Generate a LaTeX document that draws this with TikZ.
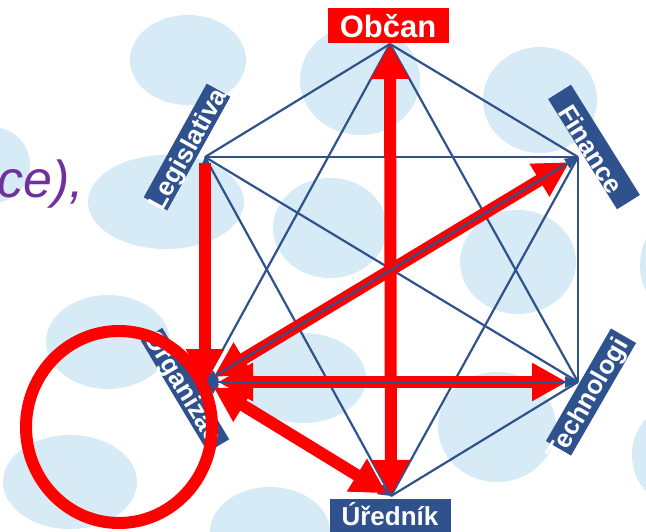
\documentclass[tikz,border=0pt]{standalone}
\usepackage{fontspec}
\setmainfont{Liberation Sans}
\usetikzlibrary{arrows.meta}
\definecolor{bgblue}{RGB}{214,235,245}
\definecolor{netblue}{RGB}{47,82,143}
\definecolor{hotred}{RGB}{255,0,0}
\definecolor{txtpurple}{RGB}{112,48,160}
\tikzset{
  blob/.style={fill=bgblue},
  edge/.style={draw=netblue, line width=2.2pt},
  bhead/.style={edge, {Triangle[length=13pt,width=11pt]}-{Triangle[length=13pt,width=11pt]}},
  redarrow/.style={draw=hotred, line width=12pt, -{Triangle[length=35pt,width=36pt]}},
  redboth/.style={draw=hotred, line width=12pt, {Triangle[length=35pt,width=36pt]}-{Triangle[length=35pt,width=36pt]}},
  labbox/.style={fill=netblue, inner sep=0pt, minimum width=130pt, minimum height=27pt},
  labtxt/.style={text=white, font=\bfseries\fontsize{26}{30}\selectfont, inner sep=0pt},
}
\begin{document}
\begin{tikzpicture}[x=1pt,y=-1pt]
\useasboundingbox (0,0) rectangle (646,531);
\clip (0,0) rectangle (646,531);
% background blobs
\fill[blob] (188,60) ellipse [x radius=58pt, y radius=45pt];
\fill[blob] (360,80) ellipse [x radius=60pt, y radius=55pt];
\fill[blob] (540,100) ellipse [x radius=57pt, y radius=53pt];
\fill[blob] (-8,165) ellipse [x radius=38pt, y radius=38pt];
\fill[blob] (166,202) ellipse [x radius=78pt, y radius=47pt];
\fill[blob] (330,228) ellipse [x radius=57pt, y radius=50pt];
\fill[blob] (518,262) ellipse [x radius=58pt, y radius=52pt];
\fill[blob] (665,265) ellipse [x radius=25pt, y radius=40pt];
\fill[blob] (303,378) ellipse [x radius=63pt, y radius=45pt];
\fill[blob] (108,342) ellipse [x radius=62pt, y radius=47pt];
\fill[blob] (497,427) ellipse [x radius=59pt, y radius=55pt];
\fill[blob] (70,482) ellipse [x radius=67pt, y radius=47pt];
\fill[blob] (270,532) ellipse [x radius=60pt, y radius=45pt];
\fill[blob] (677,455) ellipse [x radius=45pt, y radius=50pt];
% vertices
\coordinate (O) at (390,44);
\coordinate (F) at (578,157);
\coordinate (T) at (578,382);
\coordinate (U) at (391,496);
\coordinate (G) at (205,382);
\coordinate (L) at (205,157);
\coordinate (Lr) at (205,163);
% blue complete graph
\draw[edge] (O) -- (F);
\draw[edge] (O) -- (T);
\draw[edge] (O) -- (G);
\draw[edge] (O) -- (L);
\draw[edge] (L) -- (F);
\draw[edge] (L) -- (T);
\draw[edge] (L) -- (U);
\draw[edge] (F) -- (T);
\draw[edge] (F) -- (U);
\draw[edge] (T) -- (U);
\draw[bhead] (U) -- (O);
\draw[bhead] (G) -- (L);
\draw[bhead] (G) -- (F);
\draw[bhead] (G) -- (T);
\draw[bhead] (G) -- (U);
% red arrows
\draw[redboth, shorten <=1pt] (U) -- (O);
\draw[redarrow, shorten >=-2pt] (Lr) -- (G);
\draw[redboth, shorten <=10pt, shorten >=10pt] (G) -- (F);
\draw[redboth, shorten <=13pt, shorten >=11pt] (G) -- (T);
\draw[redboth, shorten <=10pt, shorten >=5pt] (G) -- (U);
\draw[edge] (G) -- (F);
\draw[edge] (G) -- (T);
% labels
\node[fill=hotred, inner sep=0pt, minimum width=121pt, minimum height=35pt] (obb) at (388,25.5) {};
\node[labtxt, font=\bfseries\fontsize{31}{36}\selectfont] (obt) at (388,26) {Občan};
\node[fill=netblue, inner sep=0pt, minimum width=121pt, minimum height=34pt] (urb) at (390,516) {};
\node[labtxt] (urt) at (390,514) {Úředník};
\node[labbox, rotate=61] (lgb) at (187,147) {};
\node[labtxt, rotate=61] (lgt) at (189,150) {Legislativa};
\node[labbox, rotate=-58] (fib) at (594,147) {};
\node[labtxt, rotate=-58] (fit) at (591,149) {Finance};
\node[labbox, rotate=60, minimum height=29pt] (teb) at (591,392) {};
\node[labtxt, rotate=60] (tet) at (589,400) {Technologi};
\node[labbox, rotate=-59, minimum height=25pt] (orb) at (185,390) {};
\node[labtxt, rotate=-59] (ort) at (182,388) {Organizac};
% highlight circle
\draw[hotred, line width=12pt] (119,427) ellipse [x radius=93pt, y radius=96pt];
% partial purple text
\node[anchor=base west, inner sep=0pt, text=txtpurple, font=\itshape\fontsize{52}{60}\selectfont] (ce) at (-3,197) {ce),};
\end{tikzpicture}
\end{document}
